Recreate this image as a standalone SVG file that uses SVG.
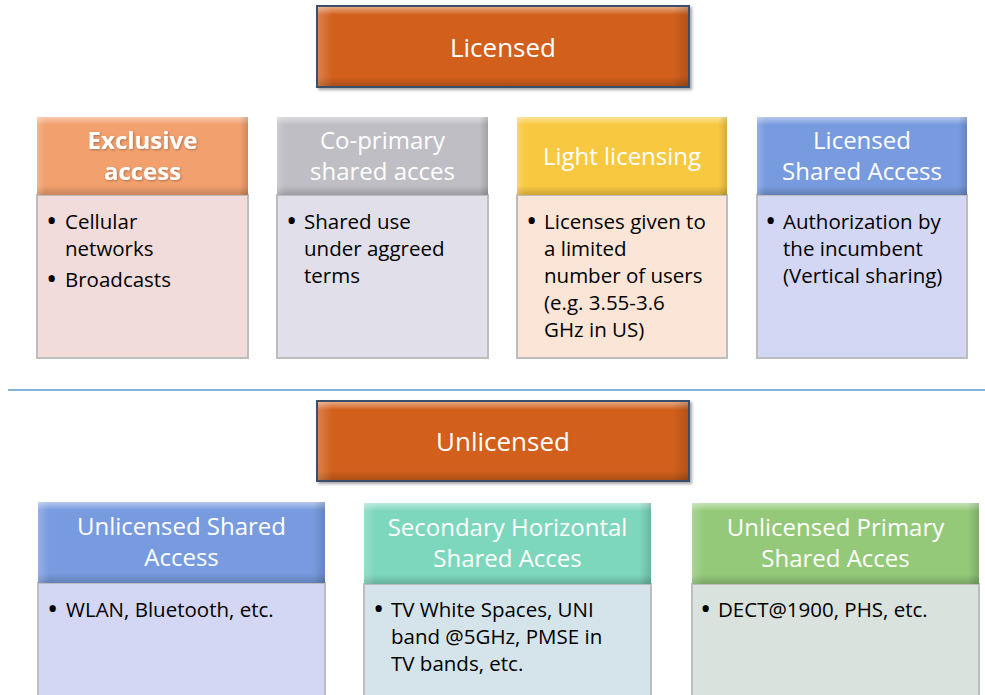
<svg xmlns="http://www.w3.org/2000/svg" width="985" height="695" viewBox="0 0 985 695">
<defs>
<linearGradient id="bevV" x1="0" y1="0" x2="0" y2="1">
<stop offset="0" stop-color="#fff" stop-opacity="0.45"/>
<stop offset="0.1" stop-color="#fff" stop-opacity="0"/>
<stop offset="0.88" stop-color="#000" stop-opacity="0"/>
<stop offset="1" stop-color="#000" stop-opacity="0.18"/>
</linearGradient>
<linearGradient id="bevH" x1="0" y1="0" x2="1" y2="0">
<stop offset="0" stop-color="#fff" stop-opacity="0.2"/>
<stop offset="0.04" stop-color="#fff" stop-opacity="0"/>
<stop offset="0.96" stop-color="#000" stop-opacity="0"/>
<stop offset="1" stop-color="#000" stop-opacity="0.15"/>
</linearGradient>
<filter id="sh" x="-5%" y="-5%" width="115%" height="120%">
<feGaussianBlur in="SourceAlpha" stdDeviation="1.5"/>
<feOffset dx="2" dy="2" result="b"/>
<feFlood flood-color="#000" flood-opacity="0.35"/>
<feComposite in2="b" operator="in"/>
<feMerge><feMergeNode/><feMergeNode in="SourceGraphic"/></feMerge>
</filter>
<filter id="tsh" x="-10%" y="-10%" width="120%" height="130%">
<feGaussianBlur in="SourceAlpha" stdDeviation="1"/>
<feOffset dx="1" dy="1" result="b"/>
<feFlood flood-color="#000" flood-opacity="0.3"/>
<feComposite in2="b" operator="in"/>
<feMerge><feMergeNode/><feMergeNode in="SourceGraphic"/></feMerge>
</filter>
</defs>
<style>
.ht{font-family:"Open Sans","Liberation Sans",sans-serif;font-size:24px;fill:#ffffff;text-anchor:middle}
.big{font-family:"Open Sans","Liberation Sans",sans-serif;font-size:26px;fill:#ffffff;text-anchor:middle}
.bt{font-family:"Open Sans","Liberation Sans",sans-serif;font-size:20.5px;fill:#000000}
.bul{font-family:"Open Sans","Liberation Sans",sans-serif;font-size:30px;fill:#000000}
.body{stroke:#bdbdbd;stroke-width:2}
.bev{fill:url(#bevV)}
.bevh{fill:url(#bevH)}
.sep{stroke:#5b9bd5;stroke-width:1.5}
</style>
<rect width="985" height="695" fill="#ffffff"/>

<g id="connectors">
<line class="sep" x1="8" y1="390" x2="985" y2="390"/>
</g>

<g id="licensed">
<rect x="317" y="6" width="372" height="81" fill="#d2611b" stroke="#3b4f6b" stroke-width="2" filter="url(#sh)"/>
<rect x="318" y="7" width="370" height="79" class="bev"/>
<rect x="318" y="7" width="370" height="79" class="bevh"/>
<text class="big" x="503" y="57">Licensed</text>
</g>

<g id="exclusive">
<rect class="body" x="37" y="195" width="211" height="163" fill="#f2dbdb"/>
<rect x="37" y="117" width="211" height="78" fill="#f2a06e"/>
<rect x="37" y="117" width="211" height="78" class="bev"/>
<rect x="37" y="117" width="211" height="78" class="bevh"/>
<text class="ht" x="142.5" y="149" font-weight="bold" filter="url(#tsh)">Exclusive</text>
<text class="ht" x="142.5" y="180" font-weight="bold" filter="url(#tsh)">access</text>
<text class="bul" x="46" y="231">•</text>
<text class="bt" x="65" y="229">Cellular</text>
<text class="bt" x="65" y="256">networks</text>
<text class="bul" x="46" y="289">•</text>
<text class="bt" x="65" y="287">Broadcasts</text>
</g>

<g id="coprimary">
<rect class="body" x="277" y="195" width="211" height="163" fill="#e0dfea"/>
<rect x="277" y="117" width="211" height="78" fill="#bebec4"/>
<rect x="277" y="117" width="211" height="78" class="bev"/>
<rect x="277" y="117" width="211" height="78" class="bevh"/>
<text class="ht" x="382.5" y="149">Co-primary</text>
<text class="ht" x="382.5" y="180">shared acces</text>
<text class="bul" x="286" y="231">•</text>
<text class="bt" x="304" y="229">Shared use</text>
<text class="bt" x="304" y="256">under aggreed</text>
<text class="bt" x="304" y="283">terms</text>
</g>

<g id="light">
<rect class="body" x="517" y="195" width="210" height="163" fill="#fbe5d7"/>
<rect x="517" y="117" width="210" height="78" fill="#f8c940"/>
<rect x="517" y="117" width="210" height="78" class="bev"/>
<rect x="517" y="117" width="210" height="78" class="bevh"/>
<text class="ht" x="622" y="165">Light licensing</text>
<text class="bul" x="526" y="231">•</text>
<text class="bt" x="544" y="229">Licenses given to</text>
<text class="bt" x="544" y="256">a limited</text>
<text class="bt" x="544" y="283">number of users</text>
<text class="bt" x="544" y="310">(e.g. 3.55-3.6</text>
<text class="bt" x="544" y="337">GHz in US)</text>
</g>

<g id="lsa">
<rect class="body" x="757" y="195" width="210" height="163" fill="#d4d7f4"/>
<rect x="757" y="117" width="210" height="78" fill="#789bdf"/>
<rect x="757" y="117" width="210" height="78" class="bev"/>
<rect x="757" y="117" width="210" height="78" class="bevh"/>
<text class="ht" x="862" y="149">Licensed</text>
<text class="ht" x="862" y="180">Shared Access</text>
<text class="bul" x="765" y="231">•</text>
<text class="bt" x="783" y="229">Authorization by</text>
<text class="bt" x="783" y="256">the incumbent</text>
<text class="bt" x="783" y="283">(Vertical sharing)</text>
</g>

<g id="unlicensed">
<rect x="317" y="401" width="372" height="80" fill="#d2611b" stroke="#3b4f6b" stroke-width="2" filter="url(#sh)"/>
<rect x="318" y="402" width="370" height="78" class="bev"/>
<rect x="318" y="402" width="370" height="78" class="bevh"/>
<text class="big" x="503" y="451">Unlicensed</text>
</g>

<g id="usa">
<rect class="body" x="38" y="583" width="287" height="120" fill="#d4d7f4"/>
<rect x="38" y="502" width="287" height="81" fill="#789bdf"/>
<rect x="38" y="502" width="287" height="81" class="bev"/>
<rect x="38" y="502" width="287" height="81" class="bevh"/>
<text class="ht" x="181.5" y="535">Unlicensed Shared</text>
<text class="ht" x="181.5" y="566">Access</text>
<text class="bul" x="47" y="619">•</text>
<text class="bt" x="66" y="617">WLAN, Bluetooth, etc.</text>
</g>

<g id="shsa">
<rect class="body" x="364" y="584" width="287" height="120" fill="#d5e3ea"/>
<rect x="364" y="503" width="287" height="81" fill="#7dd7bd"/>
<rect x="364" y="503" width="287" height="81" class="bev"/>
<rect x="364" y="503" width="287" height="81" class="bevh"/>
<text class="ht" x="507.5" y="536">Secondary Horizontal</text>
<text class="ht" x="507.5" y="567">Shared Acces</text>
<text class="bul" x="373" y="619">•</text>
<text class="bt" x="391" y="617">TV White Spaces, UNI</text>
<text class="bt" x="391" y="644">band @5GHz, PMSE in</text>
<text class="bt" x="391" y="671">TV bands, etc.</text>
</g>

<g id="upsa">
<rect class="body" x="692" y="584" width="287" height="120" fill="#d9e2dd"/>
<rect x="692" y="503" width="287" height="81" fill="#94c97a"/>
<rect x="692" y="503" width="287" height="81" class="bev"/>
<rect x="692" y="503" width="287" height="81" class="bevh"/>
<text class="ht" x="835.5" y="536">Unlicensed Primary</text>
<text class="ht" x="835.5" y="567">Shared Acces</text>
<text class="bul" x="700" y="619">•</text>
<text class="bt" x="718" y="617">DECT@1900, PHS, etc.</text>
</g>
</svg>
